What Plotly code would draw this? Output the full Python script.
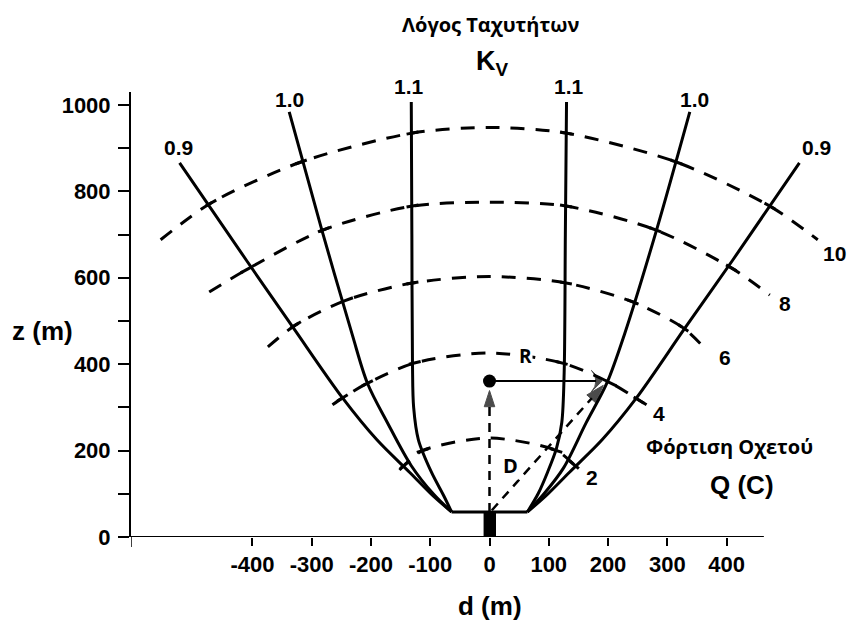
import math
import plotly.graph_objects as go

# ---- Velocity-ratio curves Kv: (d, z) in metres, left and right arms ----
kv09_left_d = [-64, -95, -135, -190, -248, -331, -410, -523]
kv09_left_z = [58, 95, 150, 225, 322, 484, 640, 866]
kv09_right_d = [64, 95, 135, 190, 248, 330, 410, 523]
kv09_right_z = [58, 95, 150, 225, 322, 484, 640, 866]

kv10_left_d = [-64, -95, -132, -172, -206, -232, -283, -338]
kv10_left_z = [58, 100, 165, 264, 356, 470, 711, 984]
kv10_right_d = [64, 92, 125, 163, 198, 228, 282, 338]
kv10_right_z = [58, 100, 160, 264, 356, 470, 711, 984]

kv11_left_d = [-64, -77, -98, -120, -128, -130, -131, -132]
kv11_left_z = [58, 95, 150, 225, 300, 403, 700, 1007]
kv11_right_d = [64, 82, 98, 113, 122, 126, 128, 130]
kv11_right_z = [58, 100, 150, 205, 265, 380, 700, 1007]

kv_curves = [
    ("0.9", kv09_left_d, kv09_left_z, kv09_right_d, kv09_right_z),
    ("1.0", kv10_left_d, kv10_left_z, kv10_right_d, kv10_right_z),
    ("1.1", kv11_left_d, kv11_left_z, kv11_right_d, kv11_right_z),
]

# common horizontal base of the curves
base_d = [-64, 64]
base_z = [58, 58]

# ---- Culvert loading contours Q (C) ----
q_values = ["2", "4", "6", "8", "10"]
q2_d = [-152, -143, -113, 0, 113, 143, 152]
q2_z = [155, 167, 200, 229, 200, 167, 155]
q4_d = [-265, -248, -206, -126, 0, 122, 205, 252, 265]
q4_z = [306, 322, 356, 403, 426, 403, 356, 317, 306]
q6_d = [-374, -327, -240, -130, 0, 129, 242, 327, 366]
q6_z = [440, 491, 549, 588, 603, 588, 544, 484, 433]
q8_d = [-473, -411, -280, -130, 0, 129, 280, 408, 473]
q8_z = [567, 618, 711, 766, 775, 766, 711, 623, 560]
q10_d = [-555, -470, -318, -130, 0, 129, 315, 473, 554]
q10_z = [688, 773, 868, 935, 948, 935, 868, 766, 688]
q_arcs = [q2_d, q4_d, q6_d, q8_d, q10_d]
q_arcs_z = [q2_z, q4_z, q6_z, q8_z, q10_z]

# ---- Source point, R and D ----
source_d, source_z = 0, 361
reach_d = 198            # end of horizontal distance R
culvert_top = 58
culvert_half = [-10, 11]

x_ticks = [-400, -300, -200, -100, 0, 100, 200, 300, 400]
y_ticks = [0, 200, 400, 600, 800, 1000]

X_RANGE = [-605, 605]
Y_RANGE = [0, 1030]
W, H = 848, 620
ML, MR, MT, MB = 131, 0, 92, 83
PW, PH = W - ML - MR, H - MT - MB
SX = PW / (X_RANGE[1] - X_RANGE[0])
SY = PH / (Y_RANGE[1] - Y_RANGE[0])

NUM_FONT = "Liberation Sans, Arial, sans-serif"
GR_FONT = "Open Sans, Noto Sans, sans-serif"

fig = go.Figure()

# Kv curves
for label, ld, lz, rd, rz in kv_curves:
    for dd, zz in ((ld, lz), (rd, rz)):
        fig.add_trace(go.Scatter(
            x=dd, y=zz, mode="lines",
            line=dict(color="black", width=3, shape="spline", smoothing=0.9),
            hoverinfo="skip", showlegend=False))
fig.add_trace(go.Scatter(x=base_d, y=base_z, mode="lines",
                         line=dict(color="black", width=3),
                         hoverinfo="skip", showlegend=False))

# Q contours (dashed) with short solid marks where they cross Kv curves
tick_x, tick_y = [], []
for dd, zz in zip(q_arcs, q_arcs_z):
    fig.add_trace(go.Scatter(
        x=dd, y=zz, mode="lines",
        line=dict(color="black", width=3, dash="14px,11px",
                  shape="spline", smoothing=0.8),
        hoverinfo="skip", showlegend=False))
    for i in range(1, len(dd) - 1):
        if dd[i] == 0:
            continue
        vx = (dd[i + 1] - dd[i - 1]) * SX
        vy = (zz[i + 1] - zz[i - 1]) * SY
        n = math.hypot(vx, vy)
        hx = 6 * vx / n / SX
        hy = 6 * vy / n / SY
        tick_x += [dd[i] - hx, dd[i] + hx, None]
        tick_y += [zz[i] - hy, zz[i] + hy, None]
fig.add_trace(go.Scatter(x=tick_x, y=tick_y, mode="lines",
                         line=dict(color="black", width=3),
                         hoverinfo="skip", showlegend=False))

arrow_marker = dict(color="black", angleref="previous",
                    line=dict(color="black", width=1))

# D: vertical dashed arrow to the source and diagonal dashed arrow
fig.add_trace(go.Scatter(
    x=[source_d, source_d], y=[culvert_top, source_z - 22],
    mode="lines+markers",
    line=dict(color="black", width=2.5, dash="9px,7px"),
    marker=dict(symbol="arrow", size=[0, 17], **arrow_marker),
    hoverinfo="skip", showlegend=False))
fig.add_trace(go.Scatter(
    x=[source_d + 4, reach_d - 6], y=[culvert_top + 4, source_z - 10],
    mode="lines+markers",
    line=dict(color="black", width=2.5, dash="9px,7px"),
    marker=dict(symbol="arrow", size=[0, 19], **arrow_marker),
    hoverinfo="skip", showlegend=False))

# R: horizontal arrow from the source point
fig.add_trace(go.Scatter(
    x=[source_d, reach_d - 8], y=[source_z, source_z],
    mode="lines+markers",
    line=dict(color="black", width=2),
    marker=dict(symbol="arrow-wide", size=[0, 15], **arrow_marker),
    hoverinfo="skip", showlegend=False))

# source point
fig.add_trace(go.Scatter(x=[source_d], y=[source_z], mode="markers",
                         marker=dict(color="black", size=13),
                         hoverinfo="skip", showlegend=False))

annotations = []


def px_ann(text, px, py, size, family=NUM_FONT, bold=True, bg=None):
    ann = dict(
        text="<b>%s</b>" % text if bold else text,
        x=(px - ML) / PW, y=(H - MB - py) / PH,
        xref="paper", yref="paper", showarrow=False,
        xanchor="center", yanchor="middle",
        font=dict(family=family, size=size, color="black"))
    if bg:
        ann["bgcolor"] = bg
        ann["borderpad"] = 0
    annotations.append(ann)


# Kv labels
for txt, px, py in [("0.9", 178, 148), ("1.0", 289, 99), ("1.1", 409, 86),
                    ("1.1", 569, 86), ("1.0", 694, 99), ("0.9", 816, 148)]:
    px_ann(txt, px, py, 21)
# Q labels
for txt, px, py in [("10", 834, 253), ("8", 785, 303), ("6", 725, 357),
                    ("4", 659, 413), ("2", 592, 477)]:
    px_ann(txt, px, py, 21)

px_ann("Λόγος Ταχυτήτων", 490, 25, 20, GR_FONT)
px_ann("K<sub>V</sub>", 492, 63, 27)
px_ann("Φόρτιση Οχετού", 729, 446, 20, GR_FONT)
px_ann("Q (C)", 742, 485, 26)
px_ann("R", 525, 356, 19, GR_FONT, bg="white")
px_ann("D", 510, 465, 20, GR_FONT, bg="white")
px_ann("z (m)", 42, 331, 26)
px_ann("d (m)", 490, 606, 26)

shapes = [
    # culvert
    dict(type="rect", x0=culvert_half[0], x1=culvert_half[1], y0=0, y1=culvert_top,
         xref="x", yref="y", fillcolor="black", line=dict(width=0)),
    # d axis line
    dict(type="line", x0=X_RANGE[0], x1=463, y0=0, y1=0, xref="x", yref="y",
         line=dict(color="black", width=2)),
    # corner tick
    dict(type="line", x0=X_RANGE[0], x1=X_RANGE[0], y0=0, y1=-10 / PH,
         xref="x", yref="paper", line=dict(color="black", width=1.5)),
]

fig.update_layout(
    width=W, height=H,
    margin=dict(l=ML, r=MR, t=MT, b=MB, pad=0),
    paper_bgcolor="white", plot_bgcolor="white",
    showlegend=False,
    annotations=annotations, shapes=shapes,
    xaxis=dict(range=X_RANGE, showgrid=False, zeroline=False, showline=False,
               tickmode="array", tickvals=x_ticks,
               ticktext=["<b>%d</b>" % v for v in x_ticks],
               ticks="outside", ticklen=8, tickwidth=1.5, tickcolor="black",
               tickfont=dict(family=NUM_FONT, size=22, color="black")),
    yaxis=dict(range=Y_RANGE, showgrid=False, zeroline=False, showline=True,
               linecolor="black", linewidth=2,
               tickmode="array", tickvals=y_ticks,
               ticktext=["<b>%d</b>" % v for v in y_ticks],
               ticks="outside", ticklen=11, tickwidth=1.5, tickcolor="black",
               ticklabelstandoff=3,
               minor=dict(dtick=100, tick0=0, ticks="outside", ticklen=11,
                          tickwidth=1.5, tickcolor="black", showgrid=False),
               tickfont=dict(family=NUM_FONT, size=22, color="black")),
)

fig.write_html("out.html")
